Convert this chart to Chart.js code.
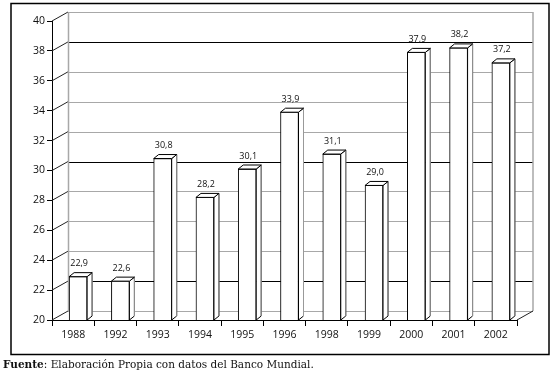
<!DOCTYPE html>
<html>
<head>
<meta charset="utf-8">
<script src="https://cdn.jsdelivr.net/npm/chart.js@4"></script>
<style>
    body { margin: 0; background: #fff; }
    #caja { position: relative; width: 556px; height: 373px; }
    #grafico { position: absolute; left: 0; top: 0; }
    #fuente {
        position: absolute; left: 3px; top: 358px;
        font-family: "DejaVu Serif", serif; font-size: 10.5px; color: #111;
        white-space: nowrap;
    }
</style>
</head>
<body>
<div id="caja">
    <canvas id="grafico" width="556" height="373"></canvas>
    <div id="fuente"><b>Fuente</b>: Elaboración Propia con datos del Banco Mundial.</div>
</div>
<script>
const anos = ["1988", "1992", "1993", "1994", "1995", "1996", "1998", "1999", "2000", "2001", "2002"];
const valores = [22.9, 22.6, 30.8, 28.2, 30.1, 33.9, 31.1, 29.0, 37.9, 38.2, 37.2];
const etiquetas = ["22,9", "22,6", "30,8", "28,2", "30,1", "33,9", "31,1", "29,0", "37,9", "38,2", "37,2"];
const ejeMin = 20;
const ejeMax = 40;
const paso = 2;
const lineasNegras = [38, 30, 22];

// profundidad de la pared del fondo y de las barras
const fondoDx = 16, fondoDy = -9;
const barraDx = 5, barraDy = -4;
const desplazamiento = 5;

const efecto3d = {
    id: "efecto3d",
    beforeDraw(chart) {
        const ctx = chart.ctx;
        ctx.save();
        ctx.strokeStyle = "#000";
        ctx.lineWidth = 1.5;
        ctx.strokeRect(11, 3.5, 538, 351);
        ctx.restore();
    },
    beforeDatasetsDraw(chart) {
        const ctx = chart.ctx;
        const y = chart.scales.y;
        const a = chart.chartArea;
        ctx.save();
        ctx.lineWidth = 1;
        // lineas de la pared del fondo
        for (let v = ejeMin; v <= ejeMax; v += paso) {
            const py = Math.round(y.getPixelForValue(v) + fondoDy) + 0.5;
            ctx.strokeStyle = lineasNegras.includes(v) ? "#000" : "#a8a8a8";
            ctx.beginPath();
            ctx.moveTo(a.left + fondoDx, py);
            ctx.lineTo(a.right + fondoDx, py);
            ctx.stroke();
            // diagonal desde la marca del eje
            ctx.strokeStyle = "#222";
            ctx.beginPath();
            ctx.moveTo(a.left, y.getPixelForValue(v));
            ctx.lineTo(a.left + fondoDx, y.getPixelForValue(v) + fondoDy);
            ctx.stroke();
        }
        ctx.strokeStyle = "#a8a8a8";
        ctx.lineWidth = 1.5;
        ctx.beginPath();
        ctx.moveTo(a.left + fondoDx + 0.5, a.bottom + fondoDy);
        ctx.lineTo(a.left + fondoDx + 0.5, a.top + fondoDy);
        ctx.moveTo(a.right + fondoDx, a.top + fondoDy);
        ctx.lineTo(a.right + fondoDx, a.bottom + fondoDy);
        ctx.stroke();
        ctx.strokeStyle = "#222";
        ctx.lineWidth = 1;
        ctx.beginPath();
        ctx.moveTo(a.right, a.bottom);
        ctx.lineTo(a.right + fondoDx, a.bottom + fondoDy);
        ctx.stroke();
        ctx.restore();

        ctx.save();
        ctx.translate(desplazamiento, 0);
    },
    afterDatasetsDraw(chart) {
        const ctx = chart.ctx;
        const meta = chart.getDatasetMeta(0);
        const suelo = chart.chartArea.bottom;
        ctx.lineWidth = 1;
        meta.data.forEach((barra, i) => {
            const x0 = barra.x - barra.width / 2;
            const x1 = barra.x + barra.width / 2;
            const yt = barra.y;
            const yb = Math.min(barra.base, suelo);
            // cara lateral
            ctx.fillStyle = "#fff";
            ctx.strokeStyle = "#000";
            ctx.beginPath();
            ctx.moveTo(x1, yt);
            ctx.lineTo(x1 + barraDx, yt + barraDy);
            ctx.lineTo(x1 + barraDx, yb + barraDy);
            ctx.lineTo(x1, yb);
            ctx.closePath();
            ctx.fill();
            ctx.stroke();
            ctx.strokeStyle = "#999";
            ctx.beginPath();
            ctx.moveTo(x1 + barraDx, yt + barraDy);
            ctx.lineTo(x1 + barraDx, yb + barraDy);
            ctx.stroke();
            // cara superior
            ctx.strokeStyle = "#000";
            ctx.beginPath();
            ctx.moveTo(x0, yt);
            ctx.lineTo(x1, yt);
            ctx.lineTo(x1 + barraDx, yt + barraDy);
            ctx.lineTo(x0 + barraDx, yt + barraDy);
            ctx.closePath();
            ctx.fill();
            ctx.stroke();
            // etiqueta
            ctx.fillStyle = "#111";
            ctx.font = "9px 'Open Sans'";
            ctx.textAlign = "center";
            ctx.textBaseline = "middle";
            ctx.fillText(etiquetas[i], barra.x + 1, yt - 13);
        });
        ctx.restore();
    }
};

const ctx = document.getElementById("grafico").getContext("2d");

new Chart(ctx, {
    type: "bar",
    data: {
        labels: anos,
        datasets: [
            {
                data: valores,
                backgroundColor: "#fff",
                borderColor: "#000",
                borderWidth: 1,
                barThickness: 18
            }
        ]
    },
    options: {
        responsive: false,
        animation: false,
        events: [],
        layout: {
            padding: { left: 0, right: 39, top: 21, bottom: 28 }
        },
        plugins: {
            legend: { display: false },
            tooltip: { enabled: false }
        },
        scales: {
            y: {
                min: ejeMin,
                max: ejeMax,
                afterFit: (escala) => { escala.width = 52; },
                ticks: {
                    stepSize: paso,
                    padding: 2,
                    color: "#111",
                    font: { family: "'Open Sans'", size: 10.5 }
                },
                grid: {
                    drawOnChartArea: false,
                    drawTicks: true,
                    tickLength: 5,
                    color: "#000"
                },
                border: { display: true, color: "#000", width: 1 }
            },
            x: {
                afterFit: (escala) => { escala.height = 25; },
                ticks: {
                    padding: 3,
                    color: "#111",
                    font: { family: "'Open Sans'", size: 10.5 }
                },
                grid: {
                    offset: true,
                    drawOnChartArea: false,
                    drawTicks: true,
                    tickLength: 6,
                    color: "#000"
                },
                border: { display: true, color: "#000", width: 1 }
            }
        }
    },
    plugins: [efecto3d]
});
</script>
</body>
</html>
